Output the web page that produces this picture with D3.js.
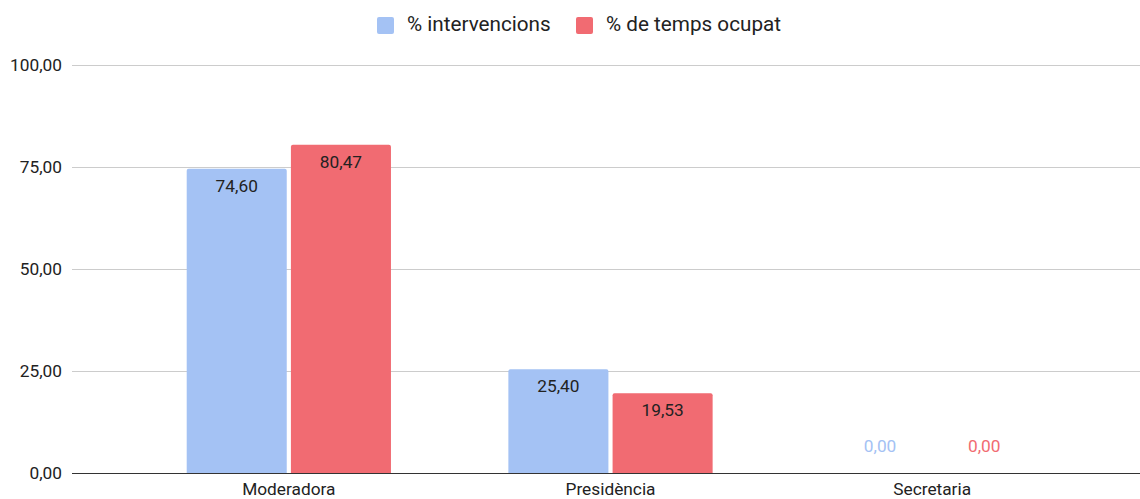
<!DOCTYPE html>
<html>
<head>
<meta charset="utf-8">
<script src="https://cdn.jsdelivr.net/npm/d3@7"></script>
<style>
  body { margin: 0; background: #fff; }
  text { font-family: Roboto, "Noto Sans", sans-serif; }
</style>
</head>
<body>
<div id="chart"></div>
<script>
// chart data
var categories = ['Moderadora', 'Presidència', 'Secretaria'];
var seriesNames = ['% intervencions', '% de temps ocupat'];
var intervencions = [74.60, 25.40, 0.00];
var tempsOcupat = [80.47, 19.53, 0.00];
var yTicks = [0, 25, 50, 75, 100];

var colors = ['#a4c2f4', '#f16b72'];
var seriesValues = [intervencions, tempsOcupat];

var width = 1140, height = 499;
var fmt = function(v) { return d3.format('.2f')(v).replace('.', ','); };

var svg = d3.select('#chart').append('svg')
  .attr('width', width)
  .attr('height', height);

var y = d3.scaleLinear().domain([0, 100]).range([473, 65]);

//category bands
var x0 = d3.scaleBand()
  .domain(categories)
  .range([128, 1093])
  .paddingInner(0.365)
  .paddingOuter(0.1825);

var x1 = d3.scaleBand()
  .domain(d3.range(seriesNames.length))
  .range([0, x0.bandwidth()])
  .paddingInner(0.04);

//gridlines + y labels
var yAxis = svg.append('g');
yTicks.forEach(function(t) {
  if (t !== 0) {
    yAxis.append('line')
      .attr('x1', 72).attr('x2', width)
      .attr('y1', y(t) + 0.5).attr('y2', y(t) + 0.5)
      .attr('stroke', '#cccccc')
      .attr('stroke-width', 1);
  }
  yAxis.append('text')
    .attr('x', 62)
    .attr('y', y(t) + 6)
    .attr('text-anchor', 'end')
    .attr('font-size', 17.3)
    .attr('fill', '#222')
    .text(fmt(t));
});

//rounded-top bar path
function barPath(x, yTop, w, yBase, r) {
  var h = yBase - yTop;
  if (h <= 0) return '';
  r = Math.min(r, h, w / 2);
  return 'M' + x + ',' + yBase +
    'V' + (yTop + r) +
    'Q' + x + ',' + yTop + ' ' + (x + r) + ',' + yTop +
    'H' + (x + w - r) +
    'Q' + (x + w) + ',' + yTop + ' ' + (x + w) + ',' + (yTop + r) +
    'V' + yBase + 'Z';
}

var groups = svg.append('g').selectAll('g')
  .data(categories)
  .join('g')
  .attr('transform', function(d) { return 'translate(' + x0(d) + ',0)'; });

groups.each(function(cat, ci) {
  var g = d3.select(this);
  seriesValues.forEach(function(vals, si) {
    var v = vals[ci];
    var bx = x1(si), bw = x1.bandwidth();
    g.append('path')
      .attr('d', barPath(bx, y(v), bw, y(0), 2))
      .attr('fill', colors[si]);

    var zero = v === 0;
    g.append('text')
      .attr('x', bx + bw / 2)
      .attr('y', zero ? y(0) - 21 : y(v) + 23)
      .attr('text-anchor', 'middle')
      .attr('font-size', 17.3)
      .attr('fill', zero ? colors[si] : '#222')
      .text(fmt(v));
  });
});

//baseline
svg.append('line')
  .attr('x1', 72).attr('x2', width)
  .attr('y1', y(0) + 0.5).attr('y2', y(0) + 0.5)
  .attr('stroke', '#333')
  .attr('stroke-width', 1.2);

//category labels
svg.append('g').selectAll('text')
  .data(categories)
  .join('text')
  .attr('x', function(d) { return x0(d) + x0.bandwidth() / 2; })
  .attr('y', 495)
  .attr('text-anchor', 'middle')
  .attr('font-size', 17.3)
  .attr('fill', '#222')
  .text(function(d) { return d; });

//legend
var legendX = [377, 576];
var legend = svg.append('g');
seriesNames.forEach(function(name, i) {
  legend.append('rect')
    .attr('x', legendX[i]).attr('y', 17)
    .attr('width', 17).attr('height', 17)
    .attr('rx', 2)
    .attr('fill', colors[i]);
  legend.append('text')
    .attr('x', legendX[i] + 30)
    .attr('y', 31)
    .attr('font-size', 20.7)
    .attr('fill', '#222')
    .text(name);
});
</script>
</body>
</html>
